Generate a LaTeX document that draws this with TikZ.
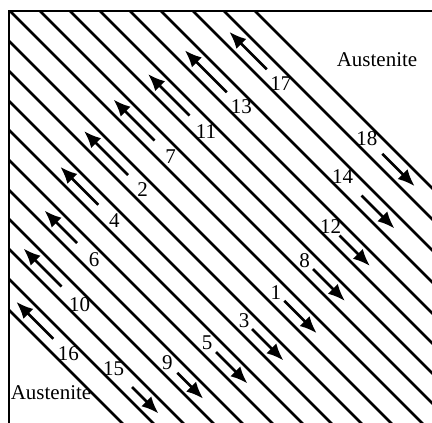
\documentclass[tikz,border=0pt]{standalone}
\usepackage{fontspec}
\setmainfont{Liberation Serif}
\usetikzlibrary{arrows.meta}

\begin{document}
\begin{tikzpicture}[x=1pt,y=-1pt,
  hatch/.style={line width=2.8pt},
  frame/.style={line width=2.2pt},
  arr/.style={line width=2.8pt,-{Latex[length=17pt,width=14pt]}},
  num/.style={inner sep=0pt,font=\fontsize{21}{24}\selectfont},
  phase/.style={inner sep=0pt,font=\fontsize{21}{24}\selectfont}]
\useasboundingbox (0,0) rectangle (432,423);
\begin{scope}
\clip (9,11) rectangle (432,423);
\foreach \c in {-244,-213,-182,-150,-119,-89,-59,-29,1,32,62,92,121,151,181,210,240,270,301}
  \draw[hatch] (-300,{-300+\c}) -- (600,{600+\c});
\end{scope}
\draw[frame] (9,423) -- (9,11) -- (432,11);

% band centre / tail / head / label position / number
\foreach \c/\st/\sh/\sl/\lab in {-228.5/536/601/505/18, -197.5/336/261/364/17,
    -166/557/623/519/14, -134.5/319/235/348/13, -104/575/636/557/12,
    -74/305/222/338/11, -44/582/646/565/8, -14/295/213/327/7,
    16.5/585/650/568/1, 47/303/215/332/2, 77/581/644/565/3,
    106.5/303/227/335/4, 136/568/631/550/5, 166/320/255/354/6,
    195.5/550/602/530/9, 225/348/272/384/10, 255/519/572/482/15,
    285.5/392/318/422/16}
{
  \draw[arr] ({(\st-\c)/2},{(\st+\c)/2}) -- ({(\sh-\c)/2},{(\sh+\c)/2});
  \node[num] (n\lab) at ({(\sl-\c)/2},{(\sl+\c)/2}) {\lab};
}

\node[phase] (austR) at (377,60) {Austenite};
\node[phase] (austL) at (51,393) {Austenite};
\end{tikzpicture}
\end{document}
